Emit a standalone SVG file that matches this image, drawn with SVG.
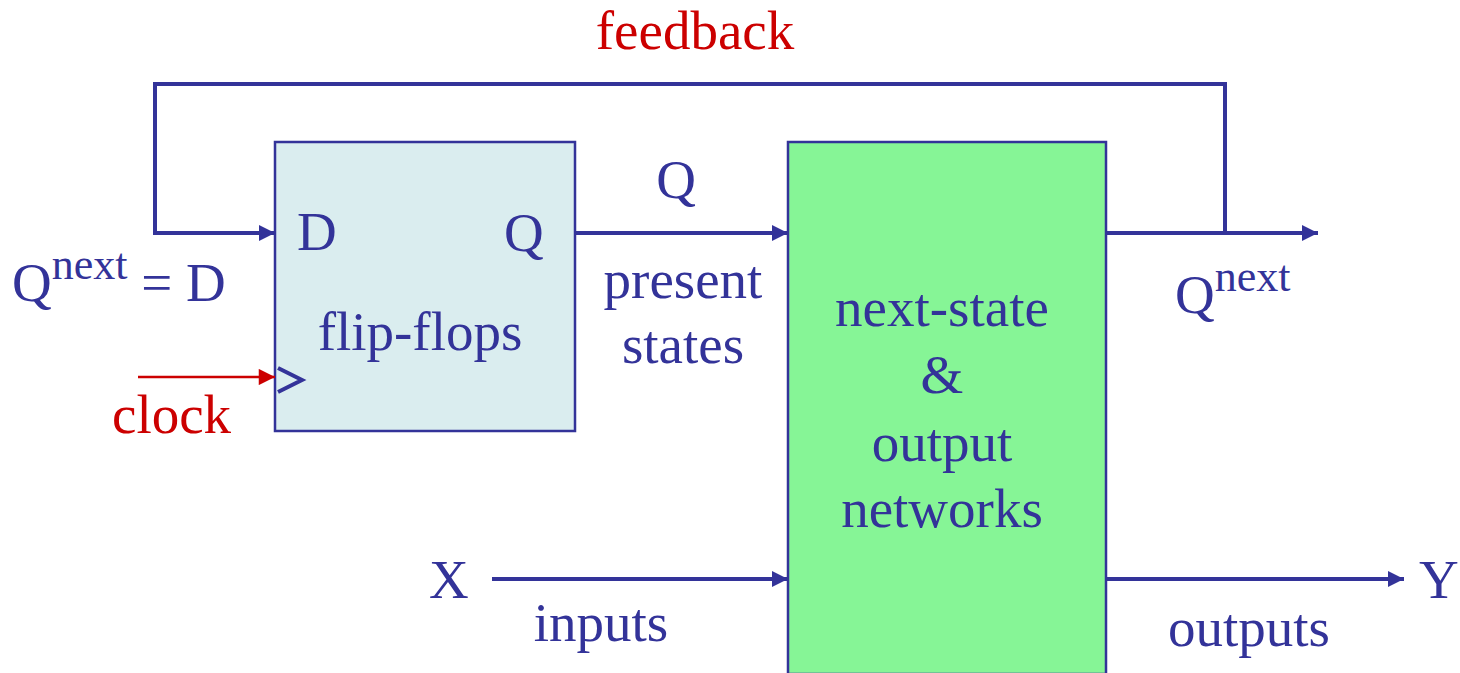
<svg xmlns="http://www.w3.org/2000/svg" width="1460" height="673" viewBox="0 0 1460 673">
<style>
text{font-family:"Liberation Serif","Times New Roman",serif;font-size:55px;fill:#333399}
.red{fill:#CC0000}
.sup{font-size:44px}
.mid{text-anchor:middle}
.w{fill:none;stroke:#333399;stroke-width:4}
</style>
<defs>
<marker id="ab" viewBox="0 0 10 10" refX="10" refY="5" markerWidth="4.5" markerHeight="4" markerUnits="strokeWidth" orient="auto"><path d="M0,0 L10,5 L0,10 z" fill="#333399"/></marker>
<marker id="ar" viewBox="0 0 10 10" refX="10" refY="5" markerWidth="7" markerHeight="6.5" markerUnits="strokeWidth" orient="auto"><path d="M0,0 L10,5 L0,10 z" fill="#CC0000"/></marker>
</defs>
<g id="flipflops">
<rect x="275" y="142" width="300" height="289" fill="#DAEDEF" stroke="#333399" stroke-width="2.5"/>
<text x="297" y="250">D</text>
<text x="504" y="251">Q</text>
<text x="420" y="350" class="mid">flip-flops</text>
<path d="M278,368 L302,380 L278,392" class="w" stroke-width="3.5"/>
</g>
<g id="network">
<rect x="788" y="142" width="318" height="532" fill="#86F596" stroke="#333399" stroke-width="2.5"/>
<text x="942" y="326" class="mid">next-state</text>
<text x="942" y="393" class="mid">&amp;</text>
<text x="942" y="461" class="mid">output</text>
<text x="942" y="527" class="mid">networks</text>
</g>
<g id="connectors">
<path d="M1225,233 V84 H155 V233 H275" class="w" marker-end="url(#ab)"/>
<path d="M575,233 H788" class="w" marker-end="url(#ab)"/>
<path d="M1106,233 H1318" class="w" marker-end="url(#ab)"/>
<path d="M492,579 H788" class="w" marker-end="url(#ab)"/>
<path d="M1106,579 H1404" class="w" marker-end="url(#ab)"/>
<path d="M138,377 H275" fill="none" stroke="#CC0000" stroke-width="2.5" marker-end="url(#ar)"/>
</g>
<g id="labels">
<text x="695" y="49" class="mid red">feedback</text>
<text x="112" y="433" class="red">clock</text>
<text x="12" y="301">Q<tspan class="sup" dy="-22">next</tspan><tspan dy="22"> = D</tspan></text>
<text x="676" y="198" class="mid">Q</text>
<text x="683" y="298" class="mid">present</text>
<text x="683" y="363" class="mid">states</text>
<text x="1175" y="313">Q<tspan class="sup" dy="-22">next</tspan></text>
<text x="429" y="598">X</text>
<text x="601" y="641" class="mid">inputs</text>
<text x="1419" y="598">Y</text>
<text x="1249" y="646" class="mid">outputs</text>
</g>
</svg>
